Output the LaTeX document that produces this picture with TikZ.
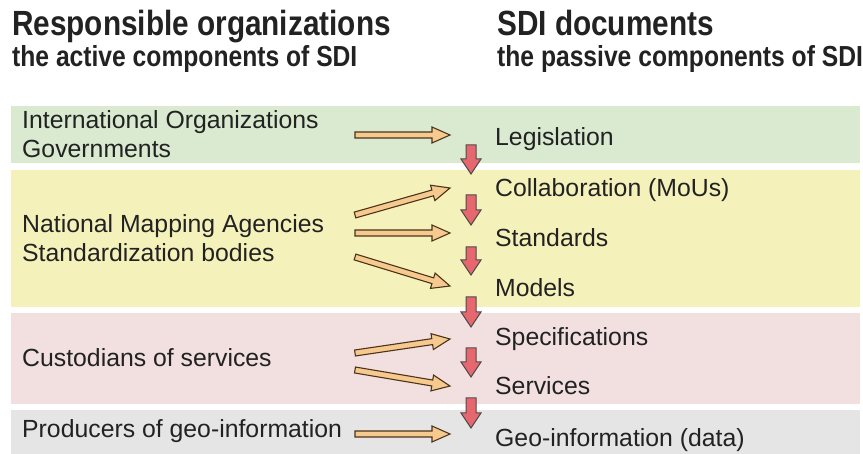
\documentclass[tikz,border=0pt]{standalone}
\usepackage{fontspec}
\setmainfont{Liberation Sans}
\newfontfamily\headfont[FakeStretch=0.85]{Liberation Sans}
\usepackage{tikz}
\usetikzlibrary{calc}

\definecolor{bandgreen}{HTML}{D9EAD0}
\definecolor{bandyellow}{HTML}{F4F2BA}
\definecolor{bandpink}{HTML}{F2E0E0}
\definecolor{bandgrey}{HTML}{E5E5E5}
\definecolor{arrowtan}{HTML}{F6C98F}
\definecolor{arrowred}{HTML}{E6676D}
\definecolor{inkgrey}{HTML}{222222}

% block arrow: style, half shaft, half head, head length, from, to
\newcommand{\blockarrow}[6]{%
  \draw[#1] ($(#5)!#2!90:(#6)$) -- ($(#6)!#4!(#5)!#2!-90:(#5)$)
    -- ($(#6)!#4!(#5)!#3!-90:(#5)$) -- (#6)
    -- ($(#6)!#4!(#5)!#3!90:(#5)$) -- ($(#6)!#4!(#5)!#2!90:(#5)$)
    -- ($(#5)!#2!-90:(#6)$) -- cycle;}

\begin{document}
\begin{tikzpicture}[x=1pt, y=-1pt,
  every node/.style={inner sep=0pt, text=inkgrey},
  txt/.style={anchor=base west, font=\fontsize{24.8}{28}\selectfont},
  head/.style={anchor=base west, font=\headfont\bfseries\fontsize{35}{40}\selectfont},
  subhead/.style={anchor=base west, font=\headfont\bfseries\fontsize{29}{34}\selectfont},
  orgarrow/.style={fill=arrowtan, draw=black!60!brown, line width=1.1pt, line join=miter},
  docarrow/.style={fill=arrowred, draw=black!70, line width=1pt, line join=miter}]
				\useasboundingbox (0,0) rectangle (863,454);
				
				\fill[bandgreen] (11,106) rectangle (860,163);
				\fill[bandyellow] (11,170) rectangle (860,307);
				\fill[bandpink] (11,313) rectangle (860,404);
				\fill[bandgrey] (11,410) rectangle (860,454);
				
				\node[head] (orgtitle) at (12,36){Responsible organizations};
				\node[subhead] (orgsub) at (12,67){the active components of SDI};
				\node[head] (doctitle) at (497,36){SDI documents};
				\node[subhead] (docsub) at (497,67){the passive components of SDI};
				
				\node[txt] (intorg) at (22,129){International Organizations};
				\node[txt] (gov) at (22,158){Governments};
				\node[txt] (nma) at (22,233){National Mapping Agencies};
				\node[txt] (stdbody) at (22,262){Standardization bodies};
				\node[txt] (cust) at (22,367){Custodians of services};
				\node[txt] (prod) at (22,438){Producers of geo-information};
				
				\node[txt] (legis) at (495,146){Legislation};
				\node[txt] (collab) at (495,197){Collaboration (MoUs)};
				\node[txt] (stds) at (495,247){Standards};
				\node[txt] (models) at (495,297){Models};
				\node[txt] (specs) at (495,346){Specifications};
				\node[txt] (servs) at (495,395){Services};
				\node[txt] (geoinfo) at (495,447){Geo-information (data)};
				
				\coordinate (o1) at (355,135);  \coordinate (t1) at (450,135);
				\coordinate (o2) at (355,215);  \coordinate (t2) at (450,188);
				\coordinate (o3) at (355,233);  \coordinate (t3) at (450,233);
				\coordinate (o4) at (355,257);  \coordinate (t4) at (450,286);
				\coordinate (o5) at (355,353);  \coordinate (t5) at (450,339);
				\coordinate (o6) at (355,370);  \coordinate (t6) at (450,386);
				\coordinate (o7) at (355,434);  \coordinate (t7) at (450,434);
				
				\blockarrow{orgarrow}{3pt}{8pt}{18pt}{o1}{t1}
				\blockarrow{orgarrow}{3pt}{8pt}{18pt}{o2}{t2}
				\blockarrow{orgarrow}{3pt}{8pt}{18pt}{o3}{t3}
				\blockarrow{orgarrow}{3pt}{8pt}{18pt}{o4}{t4}
				\blockarrow{orgarrow}{3pt}{8pt}{18pt}{o5}{t5}
				\blockarrow{orgarrow}{3pt}{8pt}{18pt}{o6}{t6}
				\blockarrow{orgarrow}{3pt}{8pt}{18pt}{o7}{t7}
				
				\coordinate (d1) at (471,145);  \coordinate (e1) at (471,174);
				\coordinate (d2) at (471,195);  \coordinate (e2) at (471,225);
				\coordinate (d3) at (471,247);  \coordinate (e3) at (471,275);
				\coordinate (d4) at (471,297);  \coordinate (e4) at (471,327);
				\coordinate (d5) at (471,348);  \coordinate (e5) at (471,377);
				\coordinate (d6) at (471,398);  \coordinate (e6) at (471,428);
				
				\blockarrow{docarrow}{5pt}{10pt}{15pt}{d1}{e1}
				\blockarrow{docarrow}{5pt}{10pt}{15pt}{d2}{e2}
				\blockarrow{docarrow}{5pt}{10pt}{15pt}{d3}{e3}
				\blockarrow{docarrow}{5pt}{10pt}{15pt}{d4}{e4}
				\blockarrow{docarrow}{5pt}{10pt}{15pt}{d5}{e5}
				\blockarrow{docarrow}{5pt}{10pt}{15pt}{d6}{e6}
\end{tikzpicture}
\end{document}
